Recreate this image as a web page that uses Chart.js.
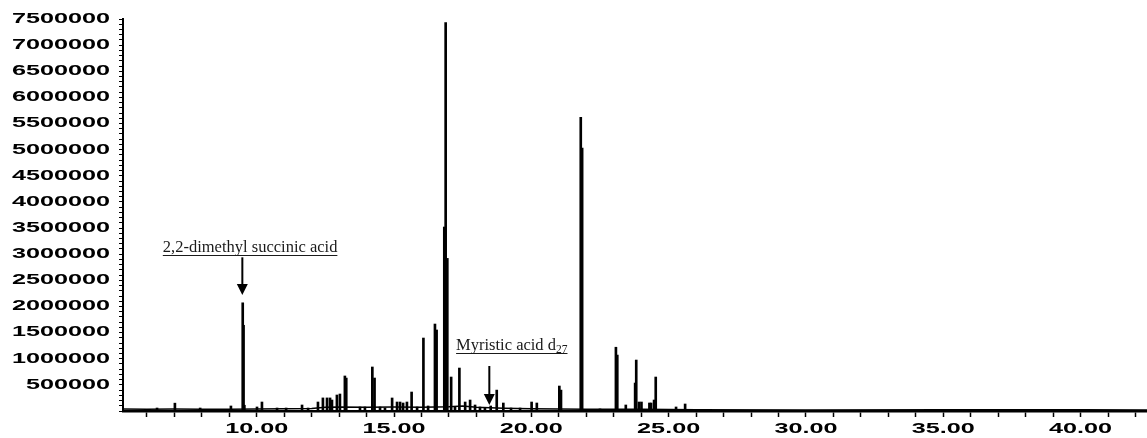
<!DOCTYPE html>
<html>
<head>
<meta charset="utf-8">
<script src="https://cdn.jsdelivr.net/npm/chart.js@4.4.1/dist/chart.umd.min.js"></script>
<style>
html,body{margin:0;padding:0;background:#fff;}
#wrap{width:1147px;height:438px;position:relative;}
</style>
</head>
<body>
<div id="wrap"><canvas id="c" width="1147" height="438"></canvas></div>
<script>
// ---- data (retention time in min, abundance) ----
const peakTimes = [6.37,7.02,7.94,9.06,9.49,9.52,9.55,10.01,10.19,10.74,11.07,11.65,11.87,12.23,12.41,12.56,12.67,12.74,12.92,13.03,13.21,13.26,13.76,13.94,14.21,14.29,14.49,14.67,14.93,15.11,15.22,15.33,15.47,15.64,15.84,16.07,16.24,16.49,16.55,16.83,16.88,16.94,17.08,17.22,17.38,17.59,17.77,17.95,18.13,18.31,18.52,18.74,18.98,19.26,19.59,20.01,20.20,21.02,21.08,21.80,21.85,22.50,23.08,23.13,23.44,23.78,23.82,23.92,24.01,24.30,24.36,24.47,24.53,25.27,25.60];
const peakHeights = [57000,150000,57000,96000,2070000,1640000,110000,77000,172000,57000,57000,115000,57000,172000,250000,250000,250000,210000,306000,325000,670000,630000,77000,77000,842000,631000,77000,57000,249000,172000,172000,153000,172000,363000,77000,1396000,96000,1664000,1550000,3520000,7430000,2920000,650000,77000,822000,172000,210000,115000,77000,57000,96000,400000,153000,57000,57000,172000,153000,478000,400000,5620000,5030000,40000,1220000,1070000,115000,535000,975000,172000,172000,153000,153000,210000,650000,77000,134000];

const baselineTimes  = [5.13,6,7,8,9,10,11,12,12.5,13,14,15,16,17,17.5,18,19,20,21,22,23,24,25,26,30,35,40,42.42];
const baselineValues = [40000,35000,38000,32000,35000,40000,42000,50000,70000,75000,70000,75000,70000,80000,95000,70000,55000,45000,40000,35000,35000,35000,30000,25000,20000,25000,25000,20000];

const xRange = [5.13, 42.42];
const yRange = [0, 7500000];
const xTickValues = [10,15,20,25,30,35,40];
const xTickLabels = ['10.00','15.00','20.00','25.00','30.00','35.00','40.00'];
const yTickValues = [500000,1000000,1500000,2000000,2500000,3000000,3500000,4000000,4500000,5000000,5500000,6000000,6500000,7000000,7500000];
const yTickLabels = ['500000','1000000','1500000','2000000','2500000','3000000','3500000','4000000','4500000','5000000','5500000','6000000','6500000','7000000','7500000'];

// annotations
const annMain = ['2,2-dimethyl succinic acid','Myristic acid d'];
const annSub  = ['','27'];
const annTextT = [6.58, 17.26];
const annTextV = [3047000, 1167000];
const arrowT = [9.476, 18.47];
const arrowFromV = [2940000, 861000];
const arrowToV = [2219000, 115000];

// ---- plugins ----
function patchCtx(ctx){
  if (ctx._patched) return;
  const orig = ctx.fillText;
  ctx.fillText = function(t,x,y,mw){
    if (this._stretch){
      this.save();
      this.translate(x,y);
      this.scale(this._stretch,1);
      if (mw === undefined) orig.call(this,t,0,0); else orig.call(this,t,0,0,mw/this._stretch);
      this.restore();
    } else {
      if (mw === undefined) orig.call(this,t,x,y); else orig.call(this,t,x,y,mw);
    }
  };
  ctx._patched = true;
}
const stretchPlugin = {
  id:'stretch',
  beforeDraw(chart){ patchCtx(chart.ctx); chart.ctx._stretch = 1.8; },
  beforeDatasetsDraw(chart){ chart.ctx._stretch = 0; }
};
const annPlugin = {
  id:'ann',
  afterDraw(chart){
    const ctx = chart.ctx; ctx._stretch = 0;
    const xs = chart.scales.x, ys = chart.scales.y;
    ctx.save();
    for (let i=0;i<annMain.length;i++){
      const tx = xs.getPixelForValue(annTextT[i]);
      const ty = ys.getPixelForValue(annTextV[i]);
      ctx.fillStyle = '#1a1a1a';
      ctx.textAlign = 'left';
      ctx.textBaseline = 'alphabetic';
      ctx.font = '16.5px "Liberation Serif"';
      ctx.fillText(annMain[i], tx, ty);
      let w = ctx.measureText(annMain[i]).width;
      if (annSub[i]){
        ctx.font = '11.5px "Liberation Serif"';
        ctx.fillText(annSub[i], tx + w, ty + 3);
        w += ctx.measureText(annSub[i]).width;
      }
      ctx.strokeStyle = '#1a1a1a';
      ctx.lineWidth = 1;
      ctx.beginPath();
      ctx.moveTo(tx, Math.round(ty)+3.5);
      ctx.lineTo(tx + w, Math.round(ty)+3.5);
      ctx.stroke();
      // arrow
      const ax = xs.getPixelForValue(arrowT[i]);
      const y0 = ys.getPixelForValue(arrowFromV[i]);
      const y1 = ys.getPixelForValue(arrowToV[i]);
      const hh = 11, hw = 5.5;
      ctx.strokeStyle = '#000';
      ctx.lineWidth = 2;
      ctx.beginPath();
      ctx.moveTo(ax, y0);
      ctx.lineTo(ax, y1 - hh + 1);
      ctx.stroke();
      ctx.fillStyle = '#000';
      ctx.beginPath();
      ctx.moveTo(ax - hw, y1 - hh);
      ctx.lineTo(ax + hw, y1 - hh);
      ctx.lineTo(ax, y1);
      ctx.closePath();
      ctx.fill();
    }
    ctx.restore();
  }
};

const tickFont = {family:'"Liberation Sans", Arial, sans-serif', weight:'bold', size:14};

new Chart(document.getElementById('c'), {
  type:'bar',
  data:{
    datasets:[
      {
        type:'bar',
        data: peakTimes.map((t,i)=>({x:t, y:peakHeights[i]})),
        backgroundColor:'#000',
        borderWidth:0,
        barThickness:2,
        order:1
      },
      {
        type:'line',
        data: baselineTimes.map((t,i)=>({x:t, y:baselineValues[i]})),
        borderColor:'#000',
        borderWidth:1.5,
        pointRadius:0,
        tension:0,
        fill:false,
        order:2
      }
    ]
  },
  options:{
    responsive:false,
    devicePixelRatio:1,
    animation:false,
    layout:{padding:{top:19,right:0,left:0,bottom:0}},
    plugins:{legend:{display:false}, tooltip:{enabled:false}, title:{display:false}},
    scales:{
      x:{
        type:'linear',
        min:xRange[0], max:xRange[1],
        offset:false,
        grid:{display:true, drawOnChartArea:false, drawTicks:true, tickLength:6, tickWidth:1.5, tickColor:'#000', offset:false},
        border:{display:true, color:'#000', width:2.5},
        ticks:{
          stepSize:1, includeBounds:false, autoSkip:false, maxRotation:0, minRotation:0,
          padding:4, color:'#000', font:tickFont,
          callback:(v)=>{ const k = xTickValues.findIndex(q=>Math.abs(q-v)<1e-6); return k>=0 ? xTickLabels[k] : ''; }
        },
        afterFit(s){ s.height = 27; }
      },
      y:{
        type:'linear',
        min:yRange[0], max:yRange[1],
        grid:{display:true, drawOnChartArea:false, drawTicks:true, tickLength:4, tickWidth:1, tickColor:'#000'},
        border:{display:true, color:'#000', width:2},
        ticks:{
          stepSize:100000, includeBounds:false, autoSkip:false,
          padding:9, color:'#000', font:tickFont,
          callback:(v)=>{ const k = yTickValues.findIndex(q=>Math.abs(q-v)<1); return k>=0 ? yTickLabels[k] : ''; }
        },
        afterFit(s){ s.width = 123; }
      }
    }
  },
  plugins:[stretchPlugin, annPlugin]
});
</script>
</body>
</html>
